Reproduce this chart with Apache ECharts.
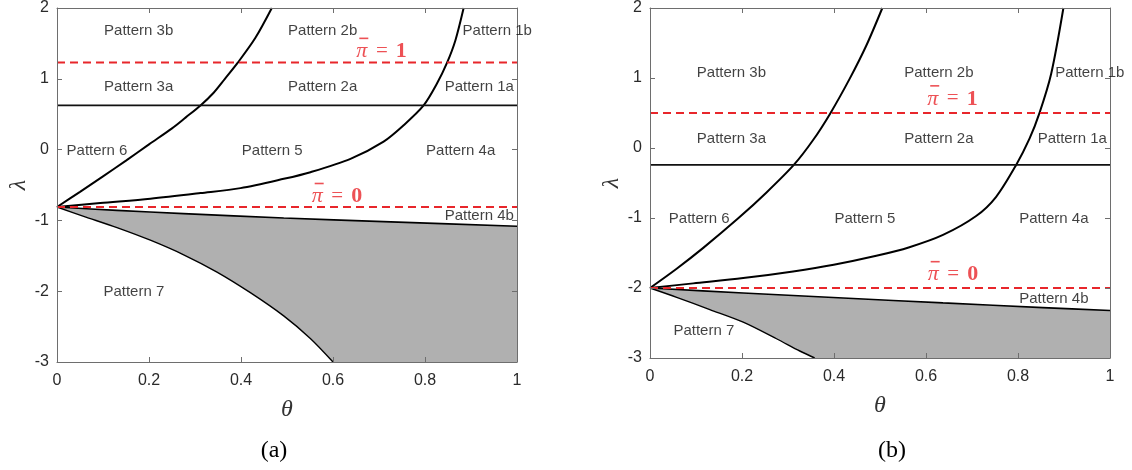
<!DOCTYPE html>
<html>
<head>
<meta charset="UTF-8">
<title>pattern regions</title>
<script src="https://cdn.jsdelivr.net/npm/echarts@6/dist/echarts.min.js"></script>
<style>
  html, body { margin: 0; padding: 0; background: #fff; }
  #box { width: 1132px; height: 470px; }
</style>
</head>
<body>
<div id="box"></div>
<script>
// ---- panel (a) ----
const aBlackLine = 0.625;
const aPi1 = 1.23;
const aPi0 = -0.81;
const aCurveLeft = [[0, -0.811], [0.05, -0.596], [0.1, -0.378], [0.15, -0.156], [0.2, 0.074], [0.25, 0.30],
  [0.28, 0.455], [0.312, 0.624], [0.34, 0.80], [0.365, 1.0], [0.393, 1.228], [0.431, 1.575], [0.467, 2.0]];
const aCurveRight = [[0, -0.811], [0.094, -0.755], [0.203, -0.694], [0.312, -0.614], [0.399, -0.544], [0.493, -0.413],
  [0.551, -0.319], [0.638, -0.131], [0.710, 0.113], [0.754, 0.347], [0.797, 0.624], [0.826, 0.933],
  [0.848, 1.228], [0.866, 1.542], [0.884, 2.0]];
const aGrayTop = [[0, -0.811], [0.130, -0.858], [0.275, -0.905], [0.493, -0.966], [0.710, -1.017], [1, -1.083]];
const aGrayBottom = [[0, -0.811], [0.058, -0.942], [0.1304, -1.102], [0.2029, -1.280], [0.2754, -1.486],
  [0.3478, -1.730], [0.4203, -2.021], [0.4928, -2.349], [0.5507, -2.668], [0.600, -3.0]];
const aLabels = [[0.1775, 1.683, 'Pattern 3b'], [0.5775, 1.683, 'Pattern 2b'], [0.957, 1.683, 'Pattern 1b'],
  [0.1775, 0.886, 'Pattern 3a'], [0.5775, 0.886, 'Pattern 2a'], [0.918, 0.886, 'Pattern 1a'],
  [0.087, -0.014, 'Pattern 6'], [0.468, -0.014, 'Pattern 5'], [0.8775, -0.014, 'Pattern 4a'],
  [0.918, -0.933, 'Pattern 4b'], [0.167, -2.011, 'Pattern 7']];
const aPiLabels = [[0.705, 1.43, '1'], [0.608, -0.62, '0']];

// ---- panel (b) ----
const bBlackLine = -0.242;
const bPi1 = 0.5;
const bPi0 = -2.0;
const bCurveLeft = [[0, -2.0], [0.0579, -1.725], [0.1158, -1.427], [0.1918, -1.005], [0.2533, -0.635],
  [0.3126, -0.242], [0.3546, 0.114], [0.3922, 0.498], [0.4342, 0.991], [0.4703, 1.464], [0.5051, 2.0]];
const bCurveRight = [[0, -2.0], [0.094, -1.934], [0.2026, -1.858], [0.311, -1.763], [0.3994, -1.668],
  [0.492, -1.540], [0.564, -1.417], [0.637, -1.242], [0.709, -0.972], [0.7525, -0.697], [0.796, -0.242],
  [0.825, 0.133], [0.8466, 0.498], [0.872, 1.057], [0.8987, 2.0]];
const bGrayTop = [[0, -2.0], [0.2026, -2.071], [0.42, -2.142], [0.637, -2.213], [0.854, -2.28], [1, -2.322]];
const bGrayBottom = [[0, -2.0], [0.058, -2.133], [0.130, -2.308], [0.2026, -2.488], [0.275, -2.725],
  [0.3256, -2.9], [0.358, -3.0]];
const bLabels = [[0.177, 1.08, 'Pattern 3b'], [0.628, 1.08, 'Pattern 2b'], [0.956, 1.08, 'Pattern 1b'],
  [0.177, 0.133, 'Pattern 3a'], [0.628, 0.133, 'Pattern 2a'], [0.918, 0.133, 'Pattern 1a'],
  [0.107, -1.019, 'Pattern 6'], [0.467, -1.019, 'Pattern 5'], [0.878, -1.019, 'Pattern 4a'],
  [0.878, -2.156, 'Pattern 4b'], [0.117, -2.616, 'Pattern 7']];
const bPiLabels = [[0.657, 0.745, '1'], [0.658, -1.767, '0']];

const axisColor = '#6e6e6e';
const redColor = '#e8262b';
const tickFont = { color: '#2a2a2a', fontSize: 16, fontFamily: 'Liberation Sans' };

var myChart = echarts.init(document.getElementById('box'));

var xAxes = [], yAxes = [], series = [];

function axisBase(extra) {
  return Object.assign({
    type: 'value', z: 5,
    axisLine: { show: true, onZero: false, lineStyle: { color: axisColor, width: 1 } },
    axisTick: { show: true, inside: true, length: 5, lineStyle: { color: axisColor } },
    splitLine: { show: false }
  }, extra);
}

function addPanel(i, d) {
  // bottom / left axes carry labels, top / right only mirror the ticks
  xAxes.push(axisBase({
    gridIndex: i, position: 'bottom', min: 0, max: 1, interval: 0.2,
    name: 'θ', nameLocation: 'middle', nameGap: 36,
    nameTextStyle: { fontFamily: 'Liberation Serif', fontStyle: 'italic', fontSize: 24, color: '#333' },
    axisLabel: Object.assign({ margin: 11 }, tickFont)
  }));
  xAxes.push(axisBase({ gridIndex: i, position: 'top', min: 0, max: 1, interval: 0.2, axisLabel: { show: false } }));
  yAxes.push(axisBase({
    gridIndex: i, position: 'left', min: -3, max: 2, interval: 1,
    name: 'λ', nameLocation: 'middle', nameGap: 26, nameRotate: 90,
    nameTextStyle: { fontFamily: 'Liberation Serif', fontStyle: 'italic', fontSize: 24, color: '#333' },
    axisLabel: Object.assign({ margin: 8 }, tickFont)
  }));
  yAxes.push(axisBase({ gridIndex: i, position: 'right', min: -3, max: 2, interval: 1, axisLabel: { show: false } }));

  var xi = i * 2, yi = i * 2;
  function line(data, style, extra) {
    return Object.assign({
      type: 'line', xAxisIndex: xi, yAxisIndex: yi, data: data, symbol: 'none',
      smooth: 0.3, lineStyle: style, z: 3, silent: true
    }, extra || {});
  }
  // gray region: fill under upper boundary, then white under lower boundary
  series.push(line(d.grayTop, { color: '#000', width: 1.6 }, { areaStyle: { color: '#b0b0b0', opacity: 1, origin: 'start' }, z: 1 }));
  series.push(line(d.grayBottom, { color: '#000', width: 1.4 }, { areaStyle: { color: '#fff', opacity: 1, origin: 'start' }, z: 2 }));
  series.push(line(d.left, { color: '#000', width: 2 }));
  series.push(line(d.right, { color: '#000', width: 2 }));
  series.push(line([[0, d.black], [1, d.black]], { color: '#111', width: 1.8 }, { smooth: false }));
  series.push(line([[0, d.pi1], [1, d.pi1]], { color: redColor, width: 2, type: [8, 5] }, { smooth: false, z: 4 }));
  series.push(line([[0, d.pi0], [1, d.pi0]], { color: redColor, width: 2, type: [8, 5] }, { smooth: false, z: 4 }));
  series.push({
    type: 'scatter', xAxisIndex: xi, yAxisIndex: yi, symbolSize: 0, z: 6, silent: true,
    data: d.labels.map(l => ({ value: [l[0], l[1]], name: l[2] })),
    label: { show: true, position: 'inside', formatter: '{b}', color: '#111', fontSize: 15, fontFamily: 'Liberation Sans' }
  });
  // pi-bar labels: the bar is a tiny filled box on its own line above the π
  series.push({
    type: 'scatter', xAxisIndex: xi, yAxisIndex: yi, symbolSize: 0, z: 6, silent: true,
    data: d.piLabels.map(l => ({ value: [l[0], l[1]], name: l[2] })),
    label: {
      show: true, position: 'inside', color: redColor,
      formatter: p => '{s1| }{bar| }{s2| }\n{pi|π}{eq|=}{n|' + p.name + '}',
      rich: {
        s1: { width: 4, height: 2, lineHeight: 6, fontSize: 2 },
        bar: { width: 9, height: 1.6, lineHeight: 6, fontSize: 2, backgroundColor: redColor },
        s2: { width: 39, height: 2, lineHeight: 6, fontSize: 2 },
        pi: { width: 13, align: 'center', fontSize: 22, fontFamily: 'Liberation Serif', fontStyle: 'italic', color: redColor, lineHeight: 20 },
        eq: { width: 27, align: 'center', fontSize: 21, fontFamily: 'Liberation Serif', color: redColor, lineHeight: 20 },
        n: { width: 12, align: 'center', fontSize: 22, fontFamily: 'Liberation Serif', fontWeight: 'bold', color: redColor, lineHeight: 20 }
      }
    }
  });
}

addPanel(0, { left: aCurveLeft, right: aCurveRight, grayTop: aGrayTop, grayBottom: aGrayBottom,
  black: aBlackLine, pi1: aPi1, pi0: aPi0, labels: aLabels, piLabels: aPiLabels });
addPanel(1, { left: bCurveLeft, right: bCurveRight, grayTop: bGrayTop, grayBottom: bGrayBottom,
  black: bBlackLine, pi1: bPi1, pi0: bPi0, labels: bLabels, piLabels: bPiLabels });

var option = {
  animation: false,
  backgroundColor: '#fff',
  title: [
    { text: '(a)', left: 274, top: 439, textAlign: 'center', padding: 0,
      textStyle: { fontFamily: 'Liberation Serif', fontWeight: 'normal', fontSize: 24, color: '#000' } },
    { text: '(b)', left: 892, top: 439, textAlign: 'center', padding: 0,
      textStyle: { fontFamily: 'Liberation Serif', fontWeight: 'normal', fontSize: 24, color: '#000' } }
  ],
  grid: [
    { left: 57, top: 7, width: 460, height: 355 },
    { left: 650, top: 7, width: 460, height: 351 }
  ],
  xAxis: xAxes,
  yAxis: yAxes,
  series: series
};
myChart.setOption(option);
</script>
</body>
</html>
